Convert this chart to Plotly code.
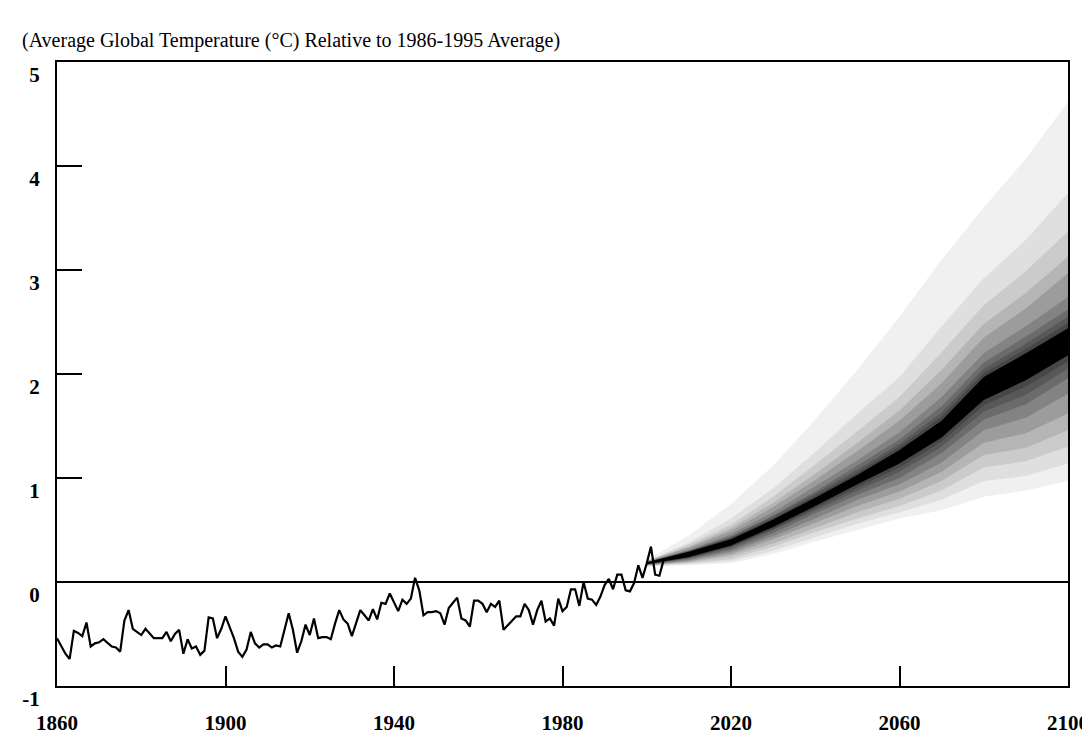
import plotly.graph_objects as go

# Observed annual global temperature anomalies (deg C, relative to 1986-1995)
hist_years = list(range(1860, 2005))
hist_temps = [
    -0.54, -0.62, -0.69, -0.74, -0.47, -0.49, -0.52, -0.39, -0.62, -0.59,
    -0.58, -0.55, -0.59, -0.62, -0.63, -0.67, -0.37, -0.27, -0.45, -0.48,
    -0.51, -0.45, -0.50, -0.54, -0.54, -0.54, -0.48, -0.57, -0.50, -0.46,
    -0.69, -0.55, -0.64, -0.62, -0.70, -0.66, -0.34, -0.35, -0.54, -0.45,
    -0.33, -0.43, -0.54, -0.67, -0.72, -0.65, -0.48, -0.59, -0.63, -0.60,
    -0.60, -0.63, -0.61, -0.62, -0.46, -0.30, -0.46, -0.68, -0.57, -0.41,
    -0.51, -0.35, -0.54, -0.53, -0.53, -0.55, -0.40, -0.27, -0.36, -0.40,
    -0.52, -0.40, -0.27, -0.32, -0.37, -0.26, -0.36, -0.20, -0.21, -0.11,
    -0.19, -0.28, -0.17, -0.21, -0.16, 0.04, -0.08, -0.32, -0.29, -0.29,
    -0.28, -0.30, -0.41, -0.25, -0.20, -0.15, -0.35, -0.37, -0.43, -0.18,
    -0.18, -0.21, -0.29, -0.21, -0.24, -0.18, -0.46, -0.42, -0.37, -0.33,
    -0.33, -0.21, -0.27, -0.41, -0.27, -0.18, -0.38, -0.35, -0.42, -0.16,
    -0.28, -0.24, -0.07, -0.07, -0.23, 0.00, -0.16, -0.17, -0.22, -0.14,
    -0.03, 0.03, -0.07, 0.07, 0.07, -0.08, -0.09, -0.01, 0.16, 0.04,
    0.18, 0.34, 0.07, 0.06, 0.21,
]

# Projection fan: years and band edges, outermost band first
fan_years = [2000, 2010, 2020, 2030, 2040, 2050, 2060, 2070, 2080, 2090, 2100]

band_upper = [
    [0.21, 0.45, 0.75, 1.12, 1.56, 2.04, 2.55, 3.10, 3.60, 4.07, 4.62],
    [0.20, 0.38, 0.61, 0.90, 1.25, 1.62, 1.97, 2.46, 2.92, 3.29, 3.74],
    [0.20, 0.36, 0.55, 0.82, 1.13, 1.45, 1.78, 2.21, 2.66, 2.99, 3.37],
    [0.20, 0.34, 0.52, 0.76, 1.04, 1.34, 1.65, 2.04, 2.48, 2.78, 3.13],
    [0.20, 0.33, 0.49, 0.72, 0.98, 1.26, 1.55, 1.91, 2.35, 2.63, 2.97],
    [0.19, 0.31, 0.46, 0.67, 0.92, 1.17, 1.44, 1.78, 2.20, 2.46, 2.74],
    [0.19, 0.30, 0.44, 0.64, 0.87, 1.12, 1.37, 1.69, 2.11, 2.36, 2.62],
    [0.19, 0.30, 0.43, 0.63, 0.85, 1.08, 1.33, 1.63, 2.05, 2.29, 2.55],
    [0.19, 0.29, 0.42, 0.61, 0.83, 1.05, 1.30, 1.59, 2.01, 2.24, 2.49],
]
band_lower = [
    [0.15, 0.16, 0.18, 0.27, 0.39, 0.50, 0.61, 0.69, 0.82, 0.88, 0.97],
    [0.15, 0.17, 0.20, 0.30, 0.43, 0.56, 0.67, 0.79, 0.97, 1.02, 1.14],
    [0.16, 0.18, 0.22, 0.34, 0.48, 0.61, 0.73, 0.88, 1.10, 1.16, 1.30],
    [0.16, 0.19, 0.25, 0.37, 0.52, 0.67, 0.80, 0.97, 1.22, 1.29, 1.46],
    [0.16, 0.20, 0.27, 0.41, 0.57, 0.73, 0.87, 1.06, 1.34, 1.43, 1.62],
    [0.16, 0.21, 0.29, 0.44, 0.61, 0.79, 0.94, 1.15, 1.46, 1.58, 1.81],
    [0.17, 0.22, 0.31, 0.47, 0.66, 0.84, 1.00, 1.24, 1.56, 1.71, 1.96],
    [0.17, 0.23, 0.33, 0.50, 0.69, 0.88, 1.06, 1.30, 1.64, 1.80, 2.05],
    [0.17, 0.23, 0.34, 0.51, 0.71, 0.91, 1.10, 1.35, 1.70, 1.88, 2.12],
]
central_upper = [0.19, 0.29, 0.41, 0.60, 0.81, 1.03, 1.27, 1.55, 1.97, 2.20, 2.44]
central_lower = [0.17, 0.24, 0.35, 0.53, 0.73, 0.94, 1.14, 1.39, 1.75, 1.94, 2.18]

band_colors = ["#f0f0f0", "#dfdfdf", "#cbcbcb", "#b5b5b5", "#9c9c9c",
               "#838383", "#6b6b6b", "#585858", "#474747"]

x_ticks = [1860, 1900, 1940, 1980, 2020, 2060, 2100]
y_ticks = [-1, 0, 1, 2, 3, 4, 5]

fig = go.Figure()

# Fan bands, widest (lightest) first so darker inner bands sit on top
for up, lo, col in zip(band_upper, band_lower, band_colors):
    fig.add_trace(go.Scatter(
        x=fan_years + fan_years[::-1], y=up + lo[::-1],
        mode="lines", fill="toself", fillcolor=col,
        line=dict(width=0, color=col), hoverinfo="skip",
    ))

fig.add_trace(go.Scatter(
    x=fan_years + fan_years[::-1], y=central_upper + central_lower[::-1],
    mode="lines", fill="toself", fillcolor="#000000",
    line=dict(width=0, color="#000000"), hoverinfo="skip",
))

# Observed record
fig.add_trace(go.Scatter(
    x=hist_years, y=hist_temps, mode="lines",
    line=dict(color="black", width=2.2),
))

tick_font = dict(family="Liberation Serif", size=21, color="black", weight="bold")

fig.update_layout(
    width=1082, height=737,
    margin=dict(l=57, r=14, t=62, b=51),
    paper_bgcolor="white", plot_bgcolor="white",
    showlegend=False,
    title=dict(
        text="(Average Global Temperature (°C) Relative to 1986-1995 Average)",
        font=dict(family="Liberation Serif", size=20, color="black"),
        x=22 / 1082, xanchor="left", xref="container",
        y=1 - 40 / 737, yanchor="middle", yref="container",
    ),
    xaxis=dict(
        range=[1860, 2100], showgrid=False, zeroline=False, automargin=False,
        showline=True, linecolor="black", linewidth=2, mirror=True,
        ticks="inside", ticklen=20, tickwidth=1.5, tickcolor="black",
        tickvals=x_ticks, ticktext=[str(v) for v in x_ticks],
        tickfont=tick_font, ticklabelstandoff=17, ticklabeloverflow="allow",
    ),
    yaxis=dict(
        range=[-1, 5], showgrid=False, automargin=False,
        zeroline=True, zerolinecolor="black", zerolinewidth=1.5,
        showline=True, linecolor="black", linewidth=2, mirror=True,
        ticks="inside", ticklen=25, tickwidth=1.5, tickcolor="black",
        tickvals=y_ticks, ticktext=[str(v) for v in y_ticks],
        tickfont=tick_font, ticklabelstandoff=11, ticklabelshift=13,
        ticklabeloverflow="allow",
    ),
)

fig.write_html("out.html")
